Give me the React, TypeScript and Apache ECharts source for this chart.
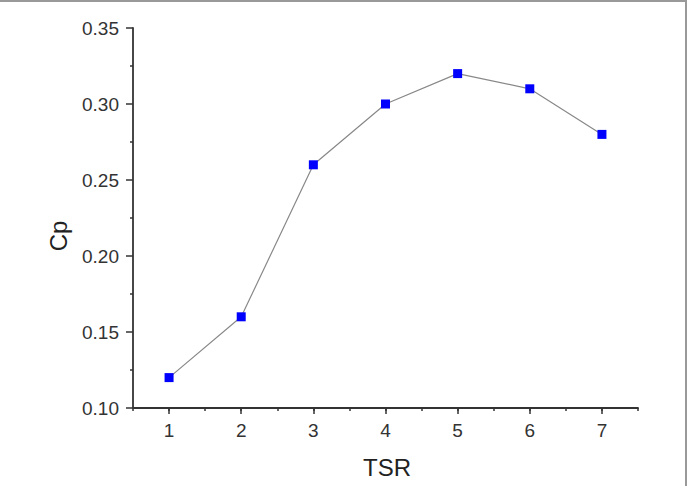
import React, { useEffect, useRef } from "react";
import * as echarts from "echarts";

const tsr = [1, 2, 3, 4, 5, 6, 7];
const cp = [0.12, 0.16, 0.26, 0.3, 0.32, 0.31, 0.28];
const xMajorTicks = [1, 2, 3, 4, 5, 6, 7];
const yTickLabels = ["0.10", "0.15", "0.20", "0.25", "0.30", "0.35"];
const xName = "TSR";
const yName = "Cp";

export default function App() {
  const ref = useRef<HTMLDivElement>(null);
  useEffect(() => {
    const chart = echarts.init(ref.current!, null, { renderer: "svg" });
    const font = "Liberation Sans, Arial, sans-serif";
    const axisColor = "#333";
    chart.setOption({
      animation: false,
      backgroundColor: "#ffffff",
      grid: { left: 133, right: 49, top: 28, bottom: 78, containLabel: false },
      xAxis: [
        {
          type: "value",
          position: "bottom",
          min: 0.5,
          max: 7.5,
          axisLine: { show: true, onZero: false, lineStyle: { color: axisColor, width: 1.8 } },
          axisTick: { show: true, customValues: xMajorTicks, length: 6, lineStyle: { color: axisColor, width: 1.5 } },
          axisLabel: {
            customValues: xMajorTicks,
            margin: 13,
            fontSize: 19,
            fontFamily: font,
            color: "#333",
          },
          splitLine: { show: false },
        },
        {
          type: "value",
          position: "bottom",
          min: 0.5,
          max: 7.5,
          interval: 0.5,
          axisLine: { show: false, onZero: false },
          axisTick: { show: true, length: 3, lineStyle: { color: axisColor, width: 1.5 } },
          axisLabel: { show: false },
          splitLine: { show: false },
        },
      ],
      yAxis: {
        type: "value",
        min: 0.1,
        max: 0.35,
        interval: 0.05,
        axisLine: { show: true, onZero: false, lineStyle: { color: axisColor, width: 1.8 } },
        axisTick: { show: true, length: 7, lineStyle: { color: axisColor, width: 1.5 } },
        minorTick: { show: true, splitNumber: 2, length: 3, lineStyle: { color: axisColor, width: 1.5 } },
        axisLabel: {
          margin: 14,
          fontSize: 19,
          fontFamily: font,
          color: "#333",
          formatter: (v: number) => {
            const idx = Math.round((v - 0.1) / 0.05);
            return yTickLabels[idx] ?? v.toFixed(2);
          },
        },
        splitLine: { show: false },
      },
      graphic: [
        {
          type: "text",
          x: 387,
          y: 467,
          style: {
            text: xName,
            font: `24px ${font}`,
            fill: "#222",
            align: "center",
            verticalAlign: "middle",
          },
        },
        {
          type: "text",
          x: 58,
          y: 236,
          rotation: Math.PI / 2,
          style: {
            text: yName,
            font: `24px ${font}`,
            fill: "#222",
            align: "center",
            verticalAlign: "middle",
          },
        },
        {
          type: "line",
          shape: { x1: 0, y1: 1, x2: 687, y2: 1 },
          style: { stroke: "#999", lineWidth: 2 },
        },
        {
          type: "line",
          shape: { x1: 686, y1: 0, x2: 686, y2: 486 },
          style: { stroke: "#999", lineWidth: 2 },
        },
      ],
      series: [
        {
          type: "line",
          xAxisIndex: 0,
          data: tsr.map((x, i) => [x, cp[i]]),
          symbol: "rect",
          symbolSize: 9,
          lineStyle: { color: "#888", width: 1.2 },
          itemStyle: { color: "#0000ff" },
        },
      ],
    });
    return () => chart.dispose();
  }, []);
  return (
    <div
      ref={ref}
      style={{ position: "fixed", left: 0, top: 0, width: 687, height: 486 }}
    />
  );
}
